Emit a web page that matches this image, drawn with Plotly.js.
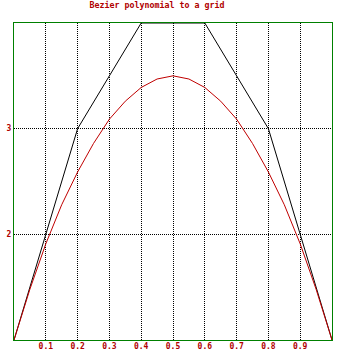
<!DOCTYPE html>
<html><head><meta charset="utf-8">
<script src="https://cdn.plot.ly/plotly-3.0.1.min.js"></script>
<style>html,body{margin:0;padding:0;background:#fff;}</style>
</head><body><div id="chart" style="width:339px;height:362px;"></div>
<script>
// control polygon
const ctrlX = [0, 0.2, 0.4, 0.6, 0.8, 1.0];
const ctrlY = [1, 3, 4, 4, 3, 1];
// bezier curve
const curveX = [0, 0.05, 0.1, 0.15, 0.2, 0.25, 0.3, 0.35, 0.4, 0.45, 0.5, 0.55, 0.6, 0.65, 0.7, 0.75, 0.8, 0.85, 0.9, 0.95, 1.0];
const curveY = [1.00, 1.48, 1.91, 2.28, 2.59, 2.86, 3.09, 3.26, 3.39, 3.47, 3.50, 3.47, 3.39, 3.26, 3.09, 2.86, 2.59, 2.28, 1.91, 1.48, 1.00];
const xTicks = [0.1, 0.2, 0.3, 0.4, 0.5, 0.6, 0.7, 0.8, 0.9];
const xTickText = ['0.1','0.2','0.3','0.4','0.5','0.6','0.7','0.8','0.9'];
const yTicks = [2, 3];
const yTickText = ['2', '3'];

const red = '#b00000';
const fnt = {family: 'DejaVu Sans Mono, monospace', size: 8, color: red, weight: 'bold'};

Plotly.newPlot('chart', [
  {x: ctrlX, y: ctrlY, mode: 'lines', line: {color: '#000000', width: 1}, hoverinfo: 'skip'},
  {x: curveX, y: curveY, mode: 'lines', line: {color: '#c00000', width: 1}, hoverinfo: 'skip'}
], {
  width: 339, height: 362,
  margin: {l: 14, r: 7, t: 23, b: 22, pad: 0},
  showlegend: false,
  paper_bgcolor: '#ffffff', plot_bgcolor: '#ffffff',
  title: {text: 'Bezier polynomial to a grid', font: {family: 'DejaVu Sans Mono, monospace', size: 8.3, color: red, weight: 'bold'},
          x: 152.5/339, xanchor: 'center', y: 1 - 5/362, yanchor: 'middle', xref: 'paper', yref: 'container'},
  xaxis: {range: [0, 1], tickvals: xTicks, ticktext: xTickText, showgrid: true, gridcolor: '#000000', griddash: '1px,1px', gridwidth: 1,
          zeroline: false, showline: true, linecolor: '#008000', linewidth: 1, mirror: true, ticks: '', tickfont: fnt, ticklabelstandoff: -2, fixedrange: true},
  yaxis: {range: [1, 4], tickvals: yTicks, ticktext: yTickText, showgrid: true, gridcolor: '#000000', griddash: '1px,1px', gridwidth: 1,
          zeroline: false, showline: true, linecolor: '#008000', linewidth: 1, mirror: true, ticks: '', tickfont: fnt, ticklabelstandoff: 0, fixedrange: true}
}, {displayModeBar: false, staticPlot: true});
</script></body></html>
